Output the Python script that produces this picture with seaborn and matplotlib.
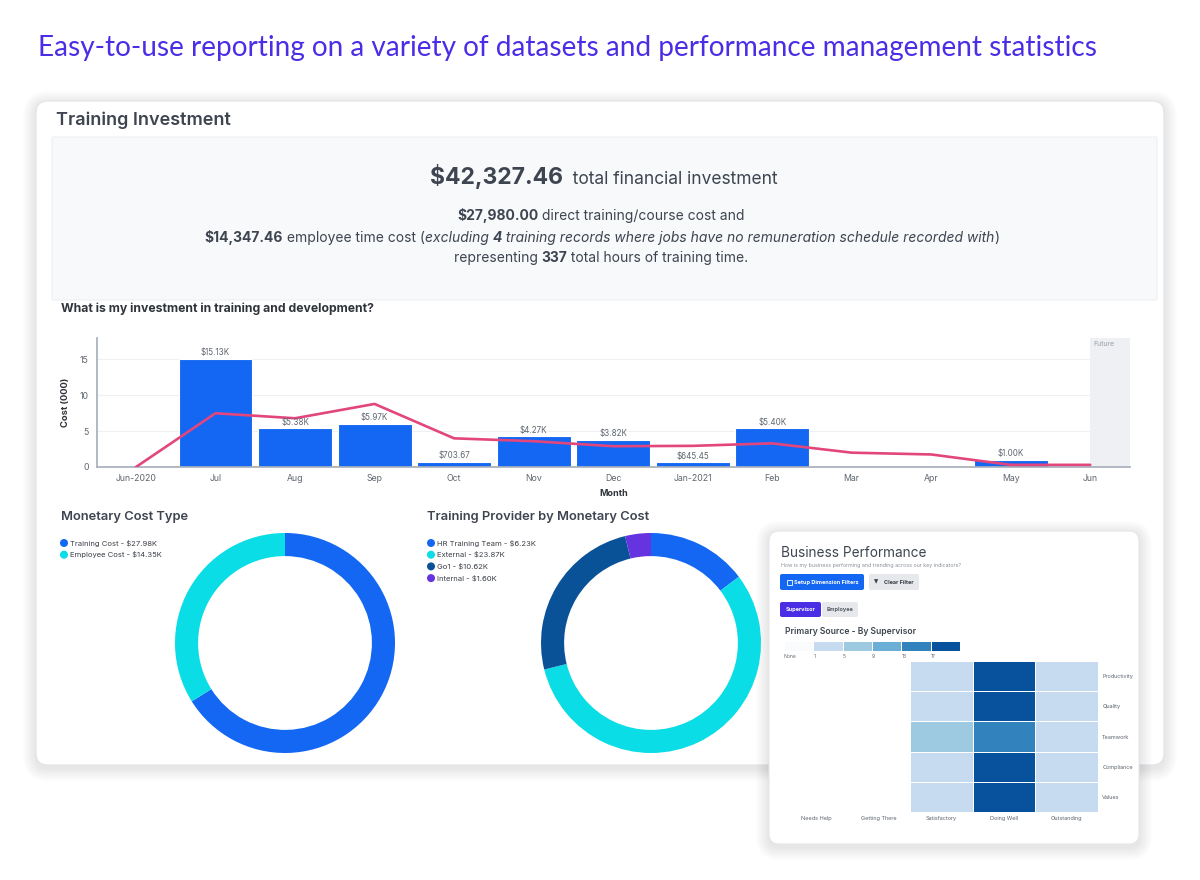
import numpy as np
import pandas as pd
import matplotlib
matplotlib.use("Agg")
import matplotlib.pyplot as plt
import seaborn as sns
from matplotlib.patches import FancyBboxPatch, Rectangle
from matplotlib.colors import ListedColormap, BoundaryNorm

# ---------------- data ----------------
months = ["Jun-2020", "Jul", "Aug", "Sep", "Oct", "Nov", "Dec", "Jan-2021",
          "Feb", "Mar", "Apr", "May", "Jun"]
cost_k = [0, 15.13, 5.38, 5.97, 0.70367, 4.27, 3.82, 0.64545, 5.40, 0, 0, 1.00, 0]
trend_k = [0, 7.5, 6.8, 8.8, 4.0, 3.6, 2.9, 2.95, 3.3, 2.0, 1.75, 0.3, 0.3]

cost_type_labels = ["Training Cost - $27.98K", "Employee Cost - $14.35K"]
cost_type_values = [27.98, 14.35]

provider_labels = ["HR Training Team - $6.23K", "External - $23.87K",
                   "Go1 - $10.62K", "Internal - $1.60K"]
provider_values = [6.23, 23.87, 10.62, 1.60]

hm_rows = ["Productivity", "Quality", "Teamwork", "Compliance", "Values"]
hm_cols = ["Needs Help", "Getting There", "Satisfactory", "Doing Well", "Outstanding"]
hm_satisfactory = [2, 2, 6, 2, 2]
hm_doing_well = [18, 18, 14, 18, 18]
hm_outstanding = [2, 2, 2, 2, 2]
legend_bins = [1, 5, 9, 13, 17]
legend_labels = ["None", "1", "5", "9", "13", "17"]

# ---------------- style ----------------
sns.set_theme(style="white")
plt.rcParams["font.family"] = ["Inter", "DejaVu Sans"]

BLUE = "#1467F2"
CYAN = "#0ADDE6"
DARK = "#0A5298"
PURPLE = "#6533E0"
PINK = "#E2467C"
TXT = "#3E4550"
GRAY = "#5F6670"
blues = ["#C6DBEF", "#9ECAE1", "#6BAED6", "#3182BD", "#08519C"]

W, H = 1200, 880
fig = plt.figure(figsize=(12, 8.8), dpi=100)
fig.patch.set_facecolor("white")


def fx(x):
    return x / W


def fy(y):
    return 1 - y / H


def rect(x0, y0, x1, y1):
    return [fx(x0), fy(y1), (x1 - x0) / W, (y1 - y0) / H]


def box(x0, y0, x1, y1, r, z, **kw):
    p = FancyBboxPatch((x0 / 100, (H - y1) / 100), (x1 - x0) / 100, (y1 - y0) / 100,
                       boxstyle=f"round,pad=0,rounding_size={r / 100}",
                       transform=fig.dpi_scale_trans, zorder=z, **kw)
    fig.add_artist(p)
    return p


def shadow(x0, y0, x1, y1, r, z):
    for i in range(8, 0, -1):
        e = i * 1.6
        box(x0 - e, y0 - e + 3, x1 + e, y1 + e + 3, r + e, z,
            facecolor="black", edgecolor="none", alpha=0.010)


renderer = fig.canvas.get_renderer()


def rich(cx, by, parts, color=TXT):
    texts, widths = [], []
    for s, size, weight, style in parts:
        t = fig.text(0, fy(by), s, fontsize=size, fontweight=weight,
                     fontstyle=style, color=color, va="baseline", ha="left")
        texts.append(t)
        widths.append(t.get_window_extent(renderer=renderer).width)
    x = cx - sum(widths) / 2
    for t, w in zip(texts, widths):
        t.set_x(fx(x))
        x += w


# headline
fig.text(fx(38), fy(48), "Easy-to-use reporting on a variety of datasets and performance management statistics",
         fontsize=20.2, color="#4A2EE6", family=["Lato", "DejaVu Sans"], va="center", ha="left")

# main card
shadow(36, 101, 1164, 765, 12, -12)
box(36, 101, 1164, 765, 12, -11, facecolor="white", edgecolor="#E2E4E8", linewidth=0.8)
fig.text(fx(56), fy(120), "Training Investment", fontsize=13, fontweight="semibold",
         color=TXT, va="center", ha="left")

# summary box
box(52, 137, 1157, 300, 2, -10, facecolor="#F7F9FB", edgecolor="#EDEFF2", linewidth=0.8)
rich(604, 184, [("$42,327.46", 16.5, "bold", "normal"),
                ("  total financial investment", 12.5, "normal", "normal")])
rich(601, 220, [("$27,980.00", 10, "bold", "normal"),
                (" direct training/course cost and", 10, "normal", "normal")])
rich(602, 242, [("$14,347.46", 10, "bold", "normal"),
                (" employee time cost (", 10, "normal", "normal"),
                ("excluding ", 10, "normal", "italic"),
                ("4", 10, "bold", "italic"),
                (" training records where jobs have no remuneration schedule recorded with", 10, "normal", "italic"),
                (")", 10, "normal", "normal")])
rich(601, 262, [("representing ", 10, "normal", "normal"),
                ("337", 10, "bold", "normal"),
                (" total hours of training time.", 10, "normal", "normal")])

# ---------------- bar + line chart ----------------
fig.text(fx(61), fy(309), "What is my investment in training and development?",
         fontsize=8.8, fontweight="bold", color="#2F343B", va="center", ha="left")
ax = fig.add_axes(rect(97, 338, 1130, 467))
ax.set_facecolor("none")
bar_df = pd.DataFrame({"Month": months, "Cost": cost_k})
sns.barplot(data=bar_df, x="Month", y="Cost", color=BLUE, saturation=1, width=0.93,
            edgecolor="white", linewidth=0.8, ax=ax, zorder=2)
sns.lineplot(x=np.arange(len(months)), y=trend_k, color=PINK, linewidth=1.9, ax=ax, zorder=3)
ax.axvspan(12, 12.5, color="#EEF0F4", zorder=0, linewidth=0)
ax.text(12.04, 17.2, "Future", fontsize=5, color="#9AA0A8", va="center", ha="left")
for i, v in enumerate(cost_k):
    if v > 0:
        lab = f"${v:.2f}K" if v >= 1 else f"${v * 1000:.2f}"
        ax.text(i, v + 0.25, lab, fontsize=5.8, color=GRAY, ha="center", va="bottom")
ax.set_xlim(-0.49, 12.5)
ax.set_ylim(0, 18)
ax.set_yticks([0, 5, 10, 15])
ax.yaxis.grid(True, color="#EEF0F3", linewidth=0.8, zorder=0)
ax.set_axisbelow(True)
for s in ["top", "right"]:
    ax.spines[s].set_visible(False)
ax.spines["left"].set_color("#A8B0BA")
ax.spines["bottom"].set_color("#A8B0BA")
ax.tick_params(axis="x", labelsize=6.3, colors=GRAY, length=3, width=0.6, pad=2, color="#A8B0BA")
ax.tick_params(axis="y", labelsize=6.3, colors=GRAY, length=0, pad=6)
ax.set_xlabel("Month", fontsize=6.5, fontweight="bold", color="#2F343B", labelpad=4)
ax.set_ylabel("Cost (000)", fontsize=6.8, fontweight="bold", color="#2F343B", labelpad=7)

# ---------------- donuts ----------------
def donut(rect_px, values, colors, title, title_xy, labels, leg_xy):
    a = fig.add_axes(rect(*rect_px))
    a.pie(values, colors=colors, startangle=90, counterclock=False, radius=1,
          wedgeprops=dict(width=0.21, edgecolor="none"))
    a.set_xlim(-1, 1)
    a.set_ylim(-1, 1)
    a.set_aspect("equal")
    a.axis("off")
    fig.text(fx(title_xy[0]), fy(title_xy[1]), title, fontsize=9.3, fontweight="semibold",
             color=TXT, va="center", ha="left")
    for k, (lab, c) in enumerate(zip(labels, colors)):
        yy = leg_xy[1] + k * 11.7
        fig.add_artist(plt.Circle((leg_xy[0] / 100, (H - yy) / 100), 0.033,
                                  transform=fig.dpi_scale_trans, color=c, zorder=3))
        fig.text(fx(leg_xy[0] + 6), fy(yy), lab, fontsize=5.5, color="#3A3F46",
                 va="center", ha="left")


donut((175, 533, 395, 753), cost_type_values, [BLUE, CYAN], "Monetary Cost Type",
      (61, 517), cost_type_labels, (64, 543))
donut((541, 533, 761, 753), provider_values, [BLUE, CYAN, DARK, PURPLE],
      "Training Provider by Monetary Cost", (427, 517), provider_labels, (431, 543))

# ---------------- business performance card ----------------
shadow(769, 531, 1139, 844, 10, -6)
box(769, 531, 1139, 844, 10, -5, facecolor="white", edgecolor="#E4E6EA", linewidth=0.8)
fig.text(fx(781), fy(553), "Business Performance", fontsize=9.8, color=TXT,
         va="center", ha="left")
fig.text(fx(781), fy(565), "How is my business performing and trending across our key indicators?",
         fontsize=3.8, color="#8A9098", va="center", ha="left")
box(780, 574, 864, 590, 2, -4, facecolor=BLUE, edgecolor="none")
fig.add_artist(Rectangle((787 / 100, (H - 585) / 100), 0.05, 0.05, transform=fig.dpi_scale_trans,
                         facecolor="none", edgecolor="white", linewidth=0.6, zorder=2))
fig.text(fx(794), fy(582), "Setup Dimension Filters", fontsize=4.0, fontweight="bold",
         color="white", va="center", ha="left")
box(869, 574, 919, 590, 2, -4, facecolor="#E6E8EC", edgecolor="none")
fig.text(fx(874), fy(582), "▼", fontsize=4.0, color="#3A3F46", va="center", ha="left",
         family=["DejaVu Sans"])
fig.text(fx(884), fy(582), "Clear Filter", fontsize=4.0, fontweight="bold",
         color="#3A3F46", va="center", ha="left")
box(780, 602, 821, 617, 2, -4, facecolor="#4A2EE6", edgecolor="none")
fig.text(fx(800.5), fy(609.5), "Supervisor", fontsize=4.0, fontweight="bold",
         color="white", va="center", ha="center")
box(822, 602, 858, 617, 2, -4, facecolor="#E6E8EC", edgecolor="none")
fig.text(fx(840), fy(609.5), "Employee", fontsize=4.0, fontweight="bold",
         color="#555B63", va="center", ha="center")
fig.text(fx(785), fy(632), "Primary Source - By Supervisor", fontsize=6.2, fontweight="semibold",
         color=TXT, va="center", ha="left")

cmap = ListedColormap(blues)
norm = BoundaryNorm([1, 5, 9, 13, 17, 21], cmap.N)

# colour legend strip
axl = fig.add_axes(rect(784, 641, 960, 651))
leg_vals = pd.DataFrame([[np.nan] + legend_bins])
sns.heatmap(leg_vals, cmap=cmap, norm=norm, cbar=False, linewidths=0.4, linecolor="white",
            ax=axl, xticklabels=False, yticklabels=False)
axl.add_patch(Rectangle((0, 0), 1, 1, facecolor="#FAFBFC", edgecolor="white", zorder=0))
axl.set_xticks(np.arange(len(legend_labels)))
axl.set_xticklabels(legend_labels, fontsize=3.6, color=GRAY, ha="left")
axl.tick_params(length=0, pad=2)

# heatmap
hm = pd.DataFrame({"Needs Help": [np.nan] * 5, "Getting There": [np.nan] * 5,
                   "Satisfactory": hm_satisfactory, "Doing Well": hm_doing_well,
                   "Outstanding": hm_outstanding}, index=hm_rows)[hm_cols]
axh = fig.add_axes(rect(785, 661, 1098, 812))
sns.heatmap(hm, cmap=cmap, norm=norm, cbar=False, linewidths=0.5, linecolor="white", ax=axh)
axh.set_facecolor("white")
axh.yaxis.tick_right()
axh.set_yticklabels(hm_rows, rotation=0, fontsize=4.0, color=GRAY, ha="left")
axh.set_xticklabels(hm_cols, rotation=0, fontsize=4.0, color=GRAY)
axh.tick_params(length=0, pad=3)
axh.set_xlabel("")
axh.set_ylabel("")

fig.savefig("out.png", dpi=100)
